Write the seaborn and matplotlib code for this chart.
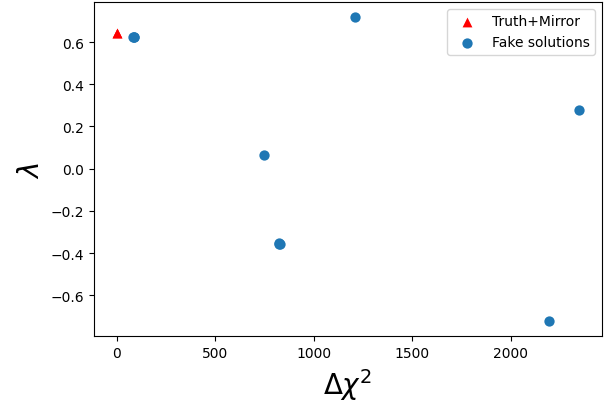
import matplotlib
matplotlib.use("Agg")
import matplotlib.pyplot as plt
import seaborn as sns
import numpy as np

# Valores
truth_dchi2 = [0.0, 3.0]
truth_lam = [0.645, 0.643]

fake_dchi2 = [83, 86, 87, 745, 821, 824, 826, 1207, 2345, 2193]
fake_lam = [0.625, 0.622, 0.624, 0.066, -0.353, -0.357, -0.355, 0.718, 0.276, -0.722]

fig, ax = plt.subplots(figsize=(6.05, 4.14), dpi=100)

sns.scatterplot(x=truth_dchi2, y=truth_lam, marker="^", color="red", s=50,
                linewidth=0, label="Truth+Mirror", ax=ax)
sns.scatterplot(x=fake_dchi2, y=fake_lam, marker="o", color="#1f77b4", s=55,
                linewidth=0, label="Fake solutions", ax=ax)

ax.set_xlabel(r"$\Delta\chi^2$", fontsize=20)
ax.set_ylabel(r"$\lambda$", fontsize=20)
ax.set_xticks([0, 500, 1000, 1500, 2000])
ax.set_yticks(np.arange(-0.6, 0.61, 0.2))
ax.legend(loc="upper right")

fig.subplots_adjust(left=0.155, right=0.995, top=0.993, bottom=0.185)
fig.savefig("out.png", dpi=100)
